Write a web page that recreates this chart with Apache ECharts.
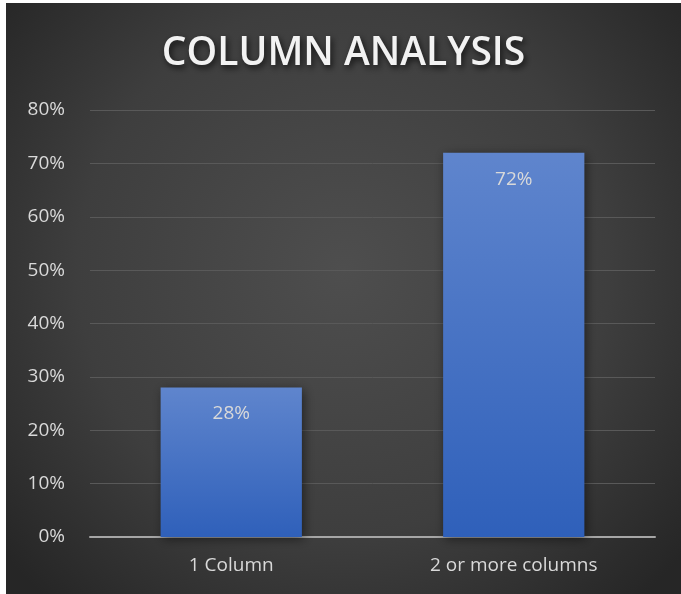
<!DOCTYPE html>
<html><head><meta charset="utf-8">
<script src="https://cdn.jsdelivr.net/npm/echarts@6/dist/echarts.min.js"></script>
<style>
html,body{margin:0;padding:0;background:#fff;}
#c{position:absolute;left:6px;top:3px;width:675px;height:591px;}
</style></head><body>
<div id="c"></div>
<script>
const categories = ['1 Column', '2 or more columns'];
const values = [28, 72];
const yTicks = { min: 0, max: 80, interval: 10 };
const title = 'COLUMN ANALYSIS';

const chart = echarts.init(document.getElementById('c'));
chart.setOption({
  backgroundColor: new echarts.graphic.RadialGradient(0.5, 0.45, 0.75, [
    { offset: 0, color: '#4e4e4e' },
    { offset: 0.6, color: '#3e3e3e' },
    { offset: 1, color: '#262626' }
  ]),
  title: {
    text: title,
    left: 'center',
    top: 26,
    textStyle: {
      color: '#f2f2f2', fontSize: 39, fontWeight: 600,
      fontFamily: 'Open Sans',
      textShadowColor: 'rgba(0,0,0,0.7)', textShadowBlur: 6, textShadowOffsetX: 2, textShadowOffsetY: 3
    }
  },
  grid: { left: 84, right: 26, top: 107, bottom: 57, containLabel: false },
  xAxis: {
    type: 'category',
    data: categories,
    axisLine: { lineStyle: { color: '#a6a6a6', width: 2 } },
    axisTick: { show: false },
    axisLabel: { color: '#d9d9d9', fontSize: 19, fontFamily: 'Open Sans', margin: 19 }
  },
  yAxis: {
    type: 'value',
    min: yTicks.min, max: yTicks.max, interval: yTicks.interval,
    axisLine: { show: false },
    axisTick: { show: false },
    axisLabel: { color: '#d9d9d9', fontSize: 19, fontFamily: 'Open Sans', margin: 25, formatter: v => v + '%' },
    splitLine: { lineStyle: { color: '#595959', width: 1 } }
  },
  series: [{
    type: 'bar',
    data: values,
    barWidth: '50%',
    itemStyle: {
      color: new echarts.graphic.LinearGradient(0, 0, 0, 1, [
        { offset: 0, color: '#5f85cd' },
        { offset: 1, color: '#2f60ba' }
      ]),
      shadowColor: 'rgba(0,0,0,0.5)', shadowBlur: 10, shadowOffsetX: 2, shadowOffsetY: 2
    },
    label: {
      show: true, position: 'insideTop', distance: 17,
      color: '#d9d9d9', fontSize: 19, fontFamily: 'Open Sans',
      formatter: p => p.value + '%'
    }
  }]
});
</script>
</body></html>
